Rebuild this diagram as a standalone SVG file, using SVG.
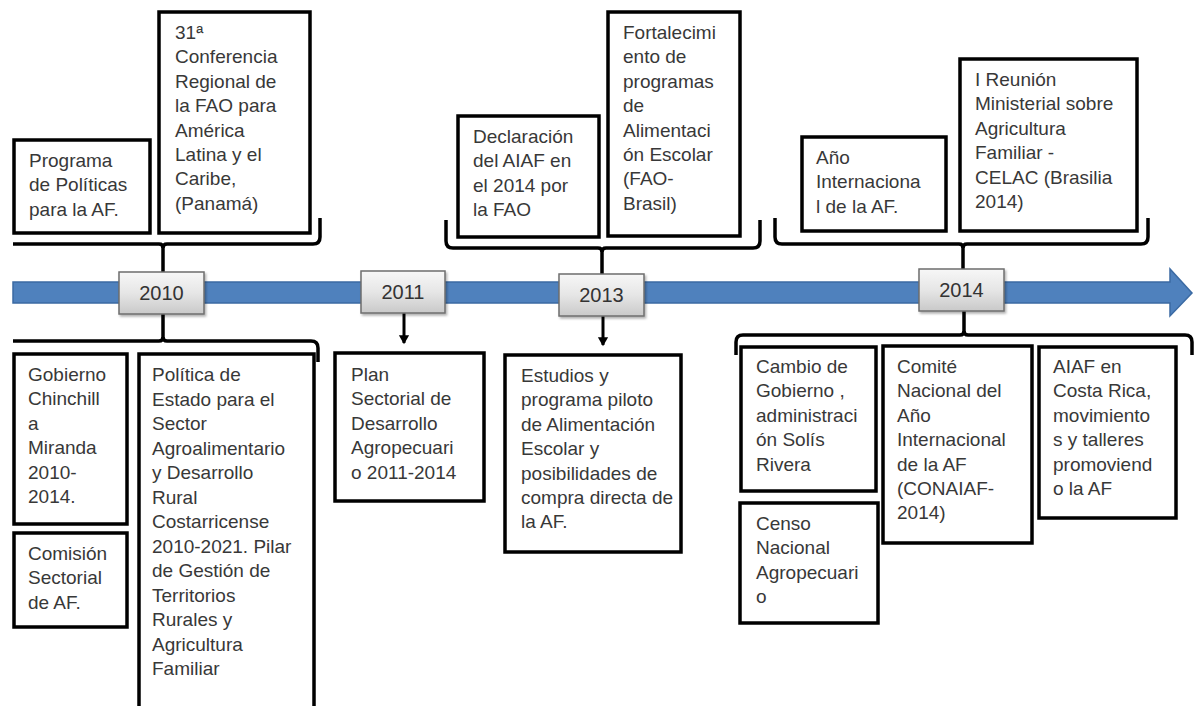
<svg xmlns="http://www.w3.org/2000/svg" width="1195" height="706" viewBox="0 0 1195 706">
<defs>
<linearGradient id="yg" x1="0" y1="0" x2="0" y2="1">
<stop offset="0" stop-color="#f7f7f7"/>
<stop offset="0.5" stop-color="#e6e6e6"/>
<stop offset="1" stop-color="#c9c9c9"/>
</linearGradient>
<filter id="sh" x="-10%" y="-10%" width="130%" height="130%">
<feDropShadow dx="1.5" dy="2" stdDeviation="1.2" flood-color="#000" flood-opacity="0.3"/>
</filter>
<marker id="ah" markerWidth="4" markerHeight="4" refX="2.6" refY="2" orient="auto" markerUnits="strokeWidth">
<path d="M0,0.3 L3,2 L0,3.7 Z" fill="#000"/>
</marker>
</defs>
<style>
.box{fill:#fff;stroke:#000;stroke-width:3.5}
.yr{fill:url(#yg);stroke:#6e6e6e;stroke-width:1.5}
.t{font-family:"Liberation Sans",Arial,sans-serif;font-size:19px;fill:#383838}
.yt{font-family:"Liberation Sans",Arial,sans-serif;font-size:20px;fill:#333;text-anchor:middle}
.br{fill:none;stroke:#000;stroke-width:3.5;stroke-linejoin:round}
.ar{fill:none;stroke:#000;stroke-width:3}
</style>
<rect width="1195" height="706" fill="#fff"/>

<g id="timeline">
<path d="M13,282 L1170,282 L1170,269 L1192,293 L1170,316 L1170,303 L13,303 Z" fill="#4f81bd" stroke="#3b6aa3" stroke-width="1.5"/>
</g>

<g id="connectors">
<path class="br" d="M13,244 L159,244 Q163,244 163,248 L163,272"/>
<path class="br" d="M163,248 Q163,244 167,244 L313,244 Q320,244 320,237 L320,218"/>
<path class="br" d="M13,341 L159,341 Q163,341 163,337 L163,314"/>
<path class="br" d="M163,337 Q163,341 167,341 L311,341 Q318,341 318,348 L318,362"/>
<line class="ar" x1="404" y1="313" x2="404" y2="343" marker-end="url(#ah)"/>
<path class="br" d="M446,220 L446,241 Q446,248 453,248 L598,248 Q602,248 602,252 L602,274"/>
<path class="br" d="M602,252 Q602,248 606,248 L753,248 Q760,248 760,241 L760,220"/>
<line class="ar" x1="603" y1="316" x2="603" y2="345" marker-end="url(#ah)"/>
<path class="br" d="M775,218 L775,237 Q775,244 782,244 L959,244 Q963,244 963,248 L963,269"/>
<path class="br" d="M963,248 Q963,244 967,244 L1141,244 Q1148,244 1148,237 L1148,218"/>
<path class="br" d="M736,355 L736,342 Q736,335 743,335 L960,335 Q964,335 964,331 L964,311"/>
<path class="br" d="M964,331 Q964,335 968,335 L1185,335 Q1192,335 1192,342 L1192,355"/>
</g>

<g id="y2010"><rect class="yr" x="119" y="272" width="85" height="42" filter="url(#sh)"/><text class="yt" x="161.5" y="300">2010</text></g>
<g id="y2011"><rect class="yr" x="361" y="271" width="84" height="42" filter="url(#sh)"/><text class="yt" x="403" y="299">2011</text></g>
<g id="y2013"><rect class="yr" x="559" y="274" width="85" height="42" filter="url(#sh)"/><text class="yt" x="601.5" y="302">2013</text></g>
<g id="y2014"><rect class="yr" x="919" y="269" width="85" height="42" filter="url(#sh)"/><text class="yt" x="961.5" y="297">2014</text></g>

<g id="n_programa"><rect class="box" x="14" y="140" width="136" height="93"/>
<text class="t"><tspan x="29" y="167">Programa</tspan><tspan x="29" y="191.4">de Políticas</tspan><tspan x="29" y="215.8">para la AF.</tspan></text></g>

<g id="n_conferencia"><rect class="box" x="159" y="12" width="151" height="221"/>
<text class="t"><tspan x="175" y="39">31ª</tspan><tspan x="175" y="63.4">Conferencia</tspan><tspan x="175" y="87.8">Regional de</tspan><tspan x="175" y="112.2">la FAO para</tspan><tspan x="175" y="136.6">América</tspan><tspan x="175" y="161">Latina y el</tspan><tspan x="175" y="185.4">Caribe,</tspan><tspan x="175" y="209.8">(Panamá)</tspan></text></g>

<g id="n_gobierno"><rect class="box" x="14" y="354" width="113" height="170"/>
<text class="t"><tspan x="28" y="381">Gobierno</tspan><tspan x="28" y="405.4">Chinchill</tspan><tspan x="28" y="429.8">a</tspan><tspan x="28" y="454.2">Miranda</tspan><tspan x="28" y="478.6">2010-</tspan><tspan x="28" y="503">2014.</tspan></text></g>

<g id="n_comision"><rect class="box" x="14" y="533" width="113" height="94"/>
<text class="t"><tspan x="28" y="560">Comisión</tspan><tspan x="28" y="584.4">Sectorial</tspan><tspan x="28" y="608.8">de AF.</tspan></text></g>

<g id="n_politica"><rect class="box" x="139" y="354" width="175" height="362"/>
<text class="t"><tspan x="152" y="381">Política de</tspan><tspan x="152" y="405.5">Estado para el</tspan><tspan x="152" y="430">Sector</tspan><tspan x="152" y="454.5">Agroalimentario</tspan><tspan x="152" y="479">y Desarrollo</tspan><tspan x="152" y="503.5">Rural</tspan><tspan x="152" y="528">Costarricense</tspan><tspan x="152" y="552.5">2010-2021.  Pilar</tspan><tspan x="152" y="577">de Gestión de</tspan><tspan x="152" y="601.5">Territorios</tspan><tspan x="152" y="626">Rurales y</tspan><tspan x="152" y="650.5">Agricultura</tspan><tspan x="152" y="675">Familiar</tspan></text></g>

<g id="n_plan"><rect class="box" x="335" y="353" width="149" height="148"/>
<text class="t"><tspan x="351" y="381">Plan</tspan><tspan x="351" y="405.4">Sectorial de</tspan><tspan x="351" y="429.8">Desarrollo</tspan><tspan x="351" y="454.2">Agropecuari</tspan><tspan x="351" y="478.6">o 2011-2014</tspan></text></g>

<g id="n_declaracion"><rect class="box" x="458" y="116" width="141" height="121"/>
<text class="t"><tspan x="473" y="143">Declaración</tspan><tspan x="473" y="167.4">del AIAF en</tspan><tspan x="473" y="191.8">el 2014 por</tspan><tspan x="473" y="216.2">la FAO</tspan></text></g>

<g id="n_fortalecimiento"><rect class="box" x="608" y="12" width="132" height="224"/>
<text class="t"><tspan x="623" y="39">Fortalecimi</tspan><tspan x="623" y="63.4">ento de</tspan><tspan x="623" y="87.8">programas</tspan><tspan x="623" y="112.2">de</tspan><tspan x="623" y="136.6">Alimentaci</tspan><tspan x="623" y="161">ón Escolar</tspan><tspan x="623" y="185.4">(FAO-</tspan><tspan x="623" y="209.8">Brasil)</tspan></text></g>

<g id="n_estudios"><rect class="box" x="505" y="355" width="176" height="197"/>
<text class="t"><tspan x="521" y="382">Estudios y</tspan><tspan x="521" y="406.4">programa piloto</tspan><tspan x="521" y="430.8">de Alimentación</tspan><tspan x="521" y="455.2">Escolar y</tspan><tspan x="521" y="479.6">posibilidades de</tspan><tspan x="521" y="504">compra directa de</tspan><tspan x="521" y="528.4">la AF.</tspan></text></g>

<g id="n_anio"><rect class="box" x="802" y="137" width="144" height="94"/>
<text class="t"><tspan x="816" y="164">Año</tspan><tspan x="816" y="188.4">Internaciona</tspan><tspan x="816" y="212.8">l de la AF.</tspan></text></g>

<g id="n_reunion"><rect class="box" x="960" y="59" width="177" height="172"/>
<text class="t"><tspan x="975" y="86">I Reunión</tspan><tspan x="975" y="110.4">Ministerial sobre</tspan><tspan x="975" y="134.8">Agricultura</tspan><tspan x="975" y="159.2">Familiar -</tspan><tspan x="975" y="183.6">CELAC (Brasilia</tspan><tspan x="975" y="208">2014)</tspan></text></g>

<g id="n_cambio"><rect class="box" x="741" y="347" width="135" height="144"/>
<text class="t"><tspan x="756" y="373">Cambio de</tspan><tspan x="756" y="397.4">Gobierno ,</tspan><tspan x="756" y="421.8">administraci</tspan><tspan x="756" y="446.2">ón Solís</tspan><tspan x="756" y="470.6">Rivera</tspan></text></g>

<g id="n_censo"><rect class="box" x="740" y="503" width="138" height="120"/>
<text class="t"><tspan x="756" y="530">Censo</tspan><tspan x="756" y="554.4">Nacional</tspan><tspan x="756" y="578.8">Agropecuari</tspan><tspan x="756" y="603.2">o</tspan></text></g>

<g id="n_comite"><rect class="box" x="883" y="346" width="149" height="197"/>
<text class="t"><tspan x="897" y="373">Comité</tspan><tspan x="897" y="397.4">Nacional del</tspan><tspan x="897" y="421.8">Año</tspan><tspan x="897" y="446.2">Internacional</tspan><tspan x="897" y="470.6">de la AF</tspan><tspan x="897" y="495">(CONAIAF-</tspan><tspan x="897" y="519.4">2014)</tspan></text></g>

<g id="n_aiaf"><rect class="box" x="1039" y="347" width="137" height="171"/>
<text class="t"><tspan x="1053" y="373">AIAF en</tspan><tspan x="1053" y="397.4">Costa Rica,</tspan><tspan x="1053" y="421.8">movimiento</tspan><tspan x="1053" y="446.2">s y talleres</tspan><tspan x="1053" y="470.6">promoviend</tspan><tspan x="1053" y="495">o la AF</tspan></text></g>
</svg>
